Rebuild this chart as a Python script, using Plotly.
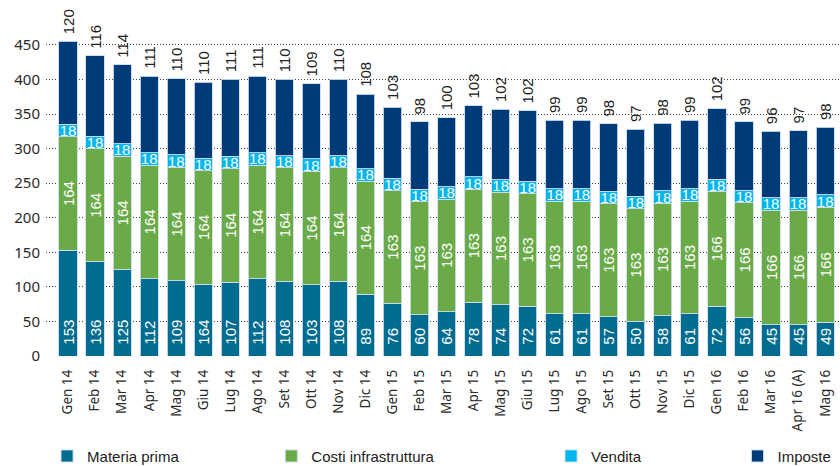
import plotly.graph_objects as go

categories = ["Gen 14", "Feb 14", "Mar 14", "Apr 14", "Mag 14", "Giu 14", "Lug 14", "Ago 14",
              "Set 14", "Ott 14", "Nov 14", "Dic 14", "Gen 15", "Feb 15", "Mar 15", "Apr 15",
              "Mag 15", "Giu 15", "Lug 15", "Ago 15", "Set 15", "Ott 15", "Nov 15", "Dic 15",
              "Gen 16", "Feb 16", "Mar 16", "Apr 16 (A)", "Mag 16"]
materia_prima = [153, 136, 125, 112, 109, 104, 107, 112, 108, 103, 108, 89, 76, 60, 64, 78,
                 74, 72, 61, 61, 57, 50, 58, 61, 72, 56, 45, 45, 49]
# label printed in the source (Giu 14 shows "164")
materia_labels = [str(v) for v in materia_prima]
materia_labels[5] = "164"
costi_infra = [164] * 12 + [163] * 12 + [166] * 5
vendita = [18] * 29
imposte = [120, 116, 114, 111, 110, 110, 111, 111, 110, 109, 110, 108, 103, 98, 100, 103,
           102, 102, 99, 99, 98, 97, 98, 99, 102, 99, 96, 97, 98]
y_ticks = list(range(0, 451, 50))

names = ["Materia prima", "Costi infrastruttura", "Vendita", "Imposte"]
colors = ["#006C90", "#6AAB47", "#00B6EC", "#003B79"]

NB = "\u00a0"
NARROW = "Liberation Sans Narrow, Arial Narrow, sans-serif"
inner_font = dict(family=NARROW, size=15, color="white")
line = dict(color="rgba(205,220,235,0.9)", width=1)

fig = go.Figure()
fig.add_trace(go.Bar(
    x=categories, y=materia_prima, name=names[0], marker=dict(color=colors[0], line=line),
    text=[NB * 2 + t for t in materia_labels], textposition="inside", textangle=-90,
    insidetextanchor="start", textfont=inner_font, legend="legend", hoverinfo="y"))
fig.add_trace(go.Bar(
    x=categories, y=costi_infra, name=names[1], marker=dict(color=colors[1], line=line),
    text=[str(v) for v in costi_infra], textposition="inside", textangle=-90,
    insidetextanchor="middle", textfont=inner_font, legend="legend2", hoverinfo="y"))
fig.add_trace(go.Bar(
    x=categories, y=vendita, name=names[2], marker=dict(color=colors[2], line=line),
    text=[str(v) for v in vendita], textposition="inside", textangle=0,
    insidetextanchor="middle", textfont=inner_font, legend="legend3", hoverinfo="y"))
fig.add_trace(go.Bar(
    x=categories, y=imposte, name=names[3], marker=dict(color=colors[3], line=line),
    text=[NB + str(v) for v in imposte], textposition="outside", textangle=-90,
    outsidetextfont=dict(family=NARROW, size=15, color="#222222"), cliponaxis=False,
    legend="legend4", hoverinfo="y"))

leg_font = dict(family=NARROW, size=15, color="#222222")
leg_common = dict(orientation="h", xref="container", yref="container", yanchor="middle",
                  y=0.021, xanchor="left", font=leg_font, bgcolor="rgba(0,0,0,0)")

fig.update_layout(
    width=840, height=466,
    barmode="stack", bargap=0.33,
    plot_bgcolor="white", paper_bgcolor="white",
    margin=dict(l=46, r=0, t=38.4, b=110),
    uniformtext=dict(minsize=15, mode="show"),
    showlegend=True,
    legend=dict(x=0.056, **leg_common),
    legend2=dict(x=0.323, **leg_common),
    legend3=dict(x=0.656, **leg_common),
    legend4=dict(x=0.878, **leg_common),
    xaxis=dict(range=[-0.814, 28.55], showgrid=False, zeroline=False, showline=False,
               tickangle=-90, ticks="", ticklabelstandoff=10, automargin=False,
               tickfont=dict(family="Noto Sans, Open Sans, sans-serif", size=13.5, color="#2a2a2a")),
    yaxis=dict(range=[0, 460], tickvals=y_ticks, showgrid=True,
               gridcolor="#444444", griddash="1px,2px", gridwidth=1, zeroline=False,
               showline=False, ticks="", ticklabelstandoff=5, automargin=False,
               tickfont=dict(family="Noto Sans, sans-serif", size=15, color="#2a2a2a")),
)

fig.write_html("out.html", config={"displayModeBar": False},
               post_script="document.body.style.margin='0';document.body.style.overflow='hidden';")
